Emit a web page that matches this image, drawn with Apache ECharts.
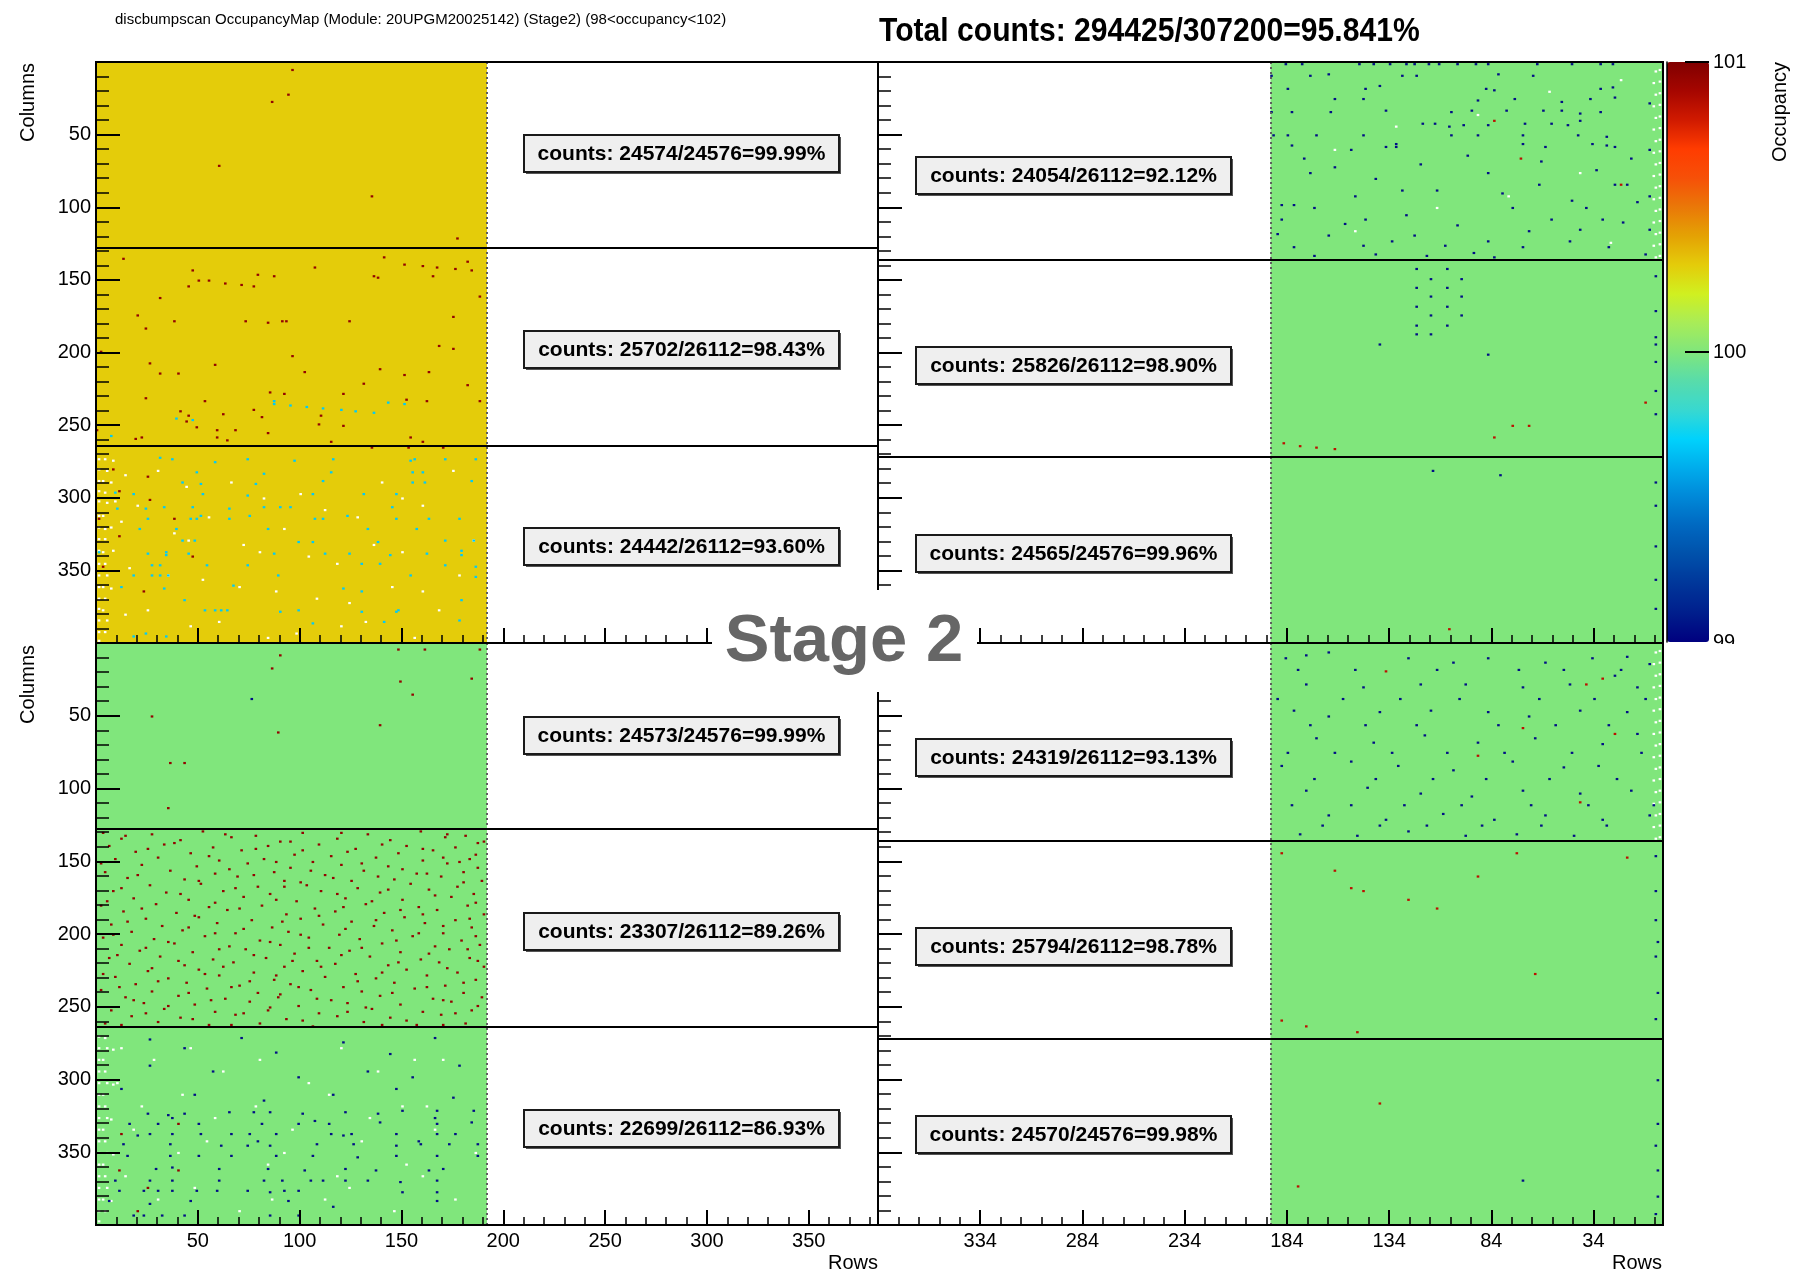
<!DOCTYPE html>
<html><head><meta charset="utf-8">
<script src="https://cdn.jsdelivr.net/npm/echarts@6/dist/echarts.min.js"></script>
<style>html,body{margin:0;padding:0;background:#fff}#c{width:1797px;height:1270px}</style>
</head><body><div id="c"></div>
<script>
// ---------------- data ----------------
const N_ROWS = 384, N_COLS = 400, FILLED_ROWS = 192;
const leftSplits = [0, 128, 264, 400];
const rightSplits = [0, 136, 272, 400];
const tlLevels = [100.3, 100.3, 100.3];
const trLevels = [100, 100, 100];
const blLevels = [100, 100, 100];
const brLevels = [100, 100, 100];
const HOT = 100.95, WARM = 100.85, CYAN = 99.68, COLD = 99.05, EMPTY = 0;
const occMin = 99, occMax = 101;
const colorbarTicks = [100, 101];

const titleText = 'discbumpscan OccupancyMap (Module: 20UPGM20025142) (Stage2) (98<occupancy<102)';
const totalText = 'Total counts: 294425/307200=95.841%';
const countsTL = ['counts: 24574/24576=99.99%', 'counts: 25702/26112=98.43%', 'counts: 24442/26112=93.60%'];
const countsTR = ['counts: 24054/26112=92.12%', 'counts: 25826/26112=98.90%', 'counts: 24565/24576=99.96%'];
const countsBL = ['counts: 24573/24576=99.99%', 'counts: 23307/26112=89.26%', 'counts: 22699/26112=86.93%'];
const countsBR = ['counts: 24319/26112=93.13%', 'counts: 25794/26112=98.78%', 'counts: 24570/24576=99.98%'];
const stageText = 'Stage 2';

// [row, column] of isolated pixels
const tlHot = [[96,5],[86,27],[94,22],[60,71],[135,92],[177,121],
 [13,135],[47,143],[45,154],[50,150],[55,150],[63,152],[71,153],[77,154],[79,146],[87,147],[107,141],[136,147],[138,148],[141,134],[151,139],[160,140],[165,147],[167,141],[176,142],[182,137],[184,143],[188,161],[31,162],[20,174],[24,183],[38,178],[73,178],[84,179],[91,178],[93,178],[124,178],[175,175],[168,195],[175,197],[96,202],[2,199],[26,207],[31,214],[40,214],[58,208],[102,213],[139,211],[151,215],[163,213],[182,222],[131,221],[24,231],[85,227],[92,228],[121,228],[152,232],[162,233],[188,233],[41,240],[45,243],[62,242],[77,239],[81,244],[53,233],[49,251],[44,247],[59,253],[110,243],[109,249],[121,250],[84,255],[68,253],[59,258],[64,260],[19,259],[22,258],[115,261],[154,258],[160,261],[0,253],
 [8,280],[25,285],[26,301],[38,314],[47,340],[23,364],[1,314],[3,347],[11,326],[11,295],[135,265],[153,265],[170,265]];
const tlCyan = [[87,233],[87,235],[95,236],[103,237],[111,238],[120,239],[127,240],[136,241],[143,234],[151,235],[39,245],[47,246],[7,257],
 [58,275],[74,273],[97,274],[116,273],[154,274],[156,273],[171,273],[186,273],[31,272],[37,273],[49,282],[82,283],[115,282],[155,282],[160,282],[184,288],[42,289],[51,290],[78,290],[111,288],[155,289],[161,289],[9,296],[18,297],[52,297],[74,298],[106,297],[131,297],[147,297],[10,307],[24,307],[33,306],[47,306],[65,307],[82,306],[90,306],[95,306],[145,306],[25,314],[46,314],[49,314],[51,312],[65,314],[75,312],[107,314],[111,314],[123,312],[147,314],[163,314],[178,314],[21,321],[39,321],[84,321],[133,321],[157,321],[42,329],[48,329],[99,330],[106,330],[138,330],[171,329],[185,329],[1,337],[25,338],[34,337],[34,339],[45,338],[87,338],[112,338],[124,338],[144,339],[162,338],[179,336],[179,339],[27,346],[31,346],[54,346],[74,346],[130,345],[139,345],[171,346],[186,347],[18,353],[27,353],[31,353],[35,353],[89,353],[154,353],[186,354],[12,361],[33,362],[67,360],[121,362],[130,364],[43,370],[179,370],[53,377],[58,377],[61,377],[64,377],[90,378],[99,377],[130,378],[147,378],[148,377],[178,384],[106,386],[141,385],[18,395],[24,393],[34,395]];
const tlWhite = [[1,273],[4,273],[8,274],[1,280],[5,281],[1,288],[3,288],[7,289],[1,295],[4,296],[1,302],[5,303],[9,302],[1,312],[3,312],[1,320],[4,321],[7,320],[1,328],[4,328],[1,336],[3,337],[8,336],[1,345],[4,345],[1,353],[5,353],[1,361],[3,361],[7,362],[1,369],[4,369],[1,376],[3,377],[1,384],[5,384],[1,392],[4,392],[1,398],
 [30,281],[66,289],[100,297],[140,289],[175,281],[20,305],[55,313],[92,321],[128,313],[160,305],[45,329],[80,337],[118,345],[150,337],[185,329],[35,353],[70,361],[108,369],[145,361],[178,353],[25,377],[60,385],[98,393],[132,385],[168,377],
 [14,284],[44,292],[82,300],[112,308],[150,300],[12,316],[38,324],[72,332],[104,340],[136,332],[16,348],[52,356],[88,364],[124,372],[160,364],[14,380],[46,388],[84,396],[120,388],[156,396]];

const trCold = [[184,1],[176,1],[148,1],[141,1],[133,1],[125,1],[121,1],[114,1],[109,1],[100,1],[91,1],[85,1],[61,1],[44,1],[30,1],[24,1],
 [191,9],[172,9],[163,8],[127,9],[120,9],[80,8],[63,9],[183,18],[145,18],[138,16],[86,18],[82,19],[30,18],[24,17],[160,25],[146,25],[90,26],[72,25],[49,27],[35,25],[23,24],[191,34],[181,34],[162,34],[135,33],[103,34],[93,33],[76,33],[58,33],[49,33],[40,35],[30,34],[117,42],[111,42],[67,42],[54,42],[46,43],[190,50],[183,50],[169,50],[146,50],[103,50],[90,50],[68,50],[41,50],[27,51],[181,57],[135,58],[130,58],[57,58],[27,57],[23,58],
 [186,98],[180,98],[170,100],[155,111],[145,108],[127,88],[104,44],[97,43],[85,43],[68,56],[59,68],[40,40],[34,56],[23,84],[17,84],[12,96],[29,108],[45,123],[68,127],[85,123],[106,126],[121,119],[132,123],[146,126],[163,119],[180,127],[186,108],[172,76],[152,60],[130,56],[85,76],[110,88],[73,100],[54,108],[40,115],[26,127],[6,28],[6,60],[6,92],[6,115],
 [175,66],[160,72],[140,80],[118,70],[95,64],[78,90],[60,84],[44,95],[32,74],[15,66],[188,118],[150,92],[125,105],[100,112],[82,134],[65,116],[37,100],[19,110],[8,132],[170,133],[140,132],[115,133],[92,131],
 [120,142],[120,155],[120,168],[120,181],[120,187],[113,149],[113,161],[113,174],[113,187],[105,142],[105,155],[105,168],[105,181],[98,149],[98,161],[98,174],[138,194],[85,201],[3,189],[3,147],[3,171],[3,194],[3,206],[3,226],[3,242],
 [112,281],[79,284],[3,289],[3,305],[3,333],[3,356],[3,376]];
const trHot = [[69,66],[20,84],[82,40],[8,234],[82,258],[73,250],[65,250],[185,262],[177,264],[169,265],[160,266],[104,390]];
const trWhite = [[1,5],[3,6],[1,13],[4,14],[1,21],[3,22],[1,29],[4,30],[1,37],[3,38],[1,45],[4,46],[1,53],[3,54],[1,61],[4,62],[1,69],[3,70],[1,77],[4,78],[1,85],[3,86],[1,93],[4,94],[1,101],[3,102],[1,109],[4,110],[1,117],[3,118],[1,125],[4,126],[1,133],[3,134],
 [20,12],[55,20],[90,36],[130,44],[160,60],[40,76],[75,92],[110,100],[150,116],[25,124]];

const blHot = [[90,8],[148,4],[161,4],[188,4],[149,26],[155,35],[184,24],[27,50],[89,61],[139,56],[36,82],[43,82],[35,113],[86,17],
 [3,130],[27,131],[52,129],[78,132],[101,130],[133,131],[159,129],[181,132],
 [12,134],[41,135],[66,133],[90,136],[118,134],[144,135],[171,133],[190,136],
 [6,139],[33,138],[57,140],[84,139],[109,138],[127,141],[152,139],[176,140],
 [19,143],[46,144],[71,142],[97,145],[123,143],[148,144],[165,142],[186,145],
 [9,148],[30,147],[60,149],[82,148],[106,150],[137,147],[160,149],[183,148],
 [22,152],[49,153],[74,151],[95,154],[120,152],[143,153],[172,151],
 [4,157],[36,156],[58,158],[87,157],[112,159],[131,156],[157,158],[180,157],
 [15,161],[43,162],[69,160],[92,163],[116,161],[146,162],[169,160],[189,163],
 [26,166],[51,165],[79,167],[103,166],[128,168],[154,165],[177,167],
 [8,170],[34,171],[62,170],[85,172],[110,170],[139,171],[163,169],[185,172],
 [18,175],[45,176],[72,174],[98,177],[122,175],[150,176],[174,174],
 [2,180],[29,179],[55,181],[81,180],[107,182],[132,179],[158,181],[182,180],
 [13,184],[39,185],[64,183],[93,186],[117,184],[141,185],[167,183],[190,186],
 [24,189],[50,188],[76,190],[100,189],[125,191],[151,188],[176,190],
 [7,193],[32,194],[59,192],[86,195],[111,193],[136,194],[161,192],[184,195],
 [17,198],[42,197],[68,199],[94,198],[119,200],[145,197],[170,199],
 [3,202],[28,203],[53,201],[80,204],[104,202],[129,203],[155,201],[179,204],
 [12,207],[38,206],[65,208],[90,207],[114,209],[140,206],[166,208],[188,207],
 [21,211],[47,212],[73,210],[97,213],[124,211],[149,212],[173,210],
 [6,216],[31,215],[57,217],[83,216],[108,218],[134,215],[159,217],[183,216],
 [16,220],[43,221],[67,219],[92,222],[117,220],[143,221],[168,219],[190,222],
 [25,225],[50,224],[77,226],[101,225],[127,227],[152,224],[177,226],
 [9,229],[35,230],[60,228],[87,231],[112,229],[137,230],[162,228],[186,231],
 [19,234],[44,233],[70,235],[95,234],[121,236],[146,233],[171,235],
 [2,238],[27,239],[54,237],[79,240],[105,238],[130,239],[156,237],[180,240],
 [14,243],[40,242],[63,244],[89,243],[115,245],[139,242],[165,244],[189,243],
 [23,247],[48,248],[75,246],[99,249],[123,247],[149,248],[174,246],
 [7,252],[33,251],[58,253],[84,252],[109,254],[135,251],[160,253],[184,252],
 [17,256],[41,257],[68,255],[93,258],[118,256],[144,257],[169,255],
 [4,261],[30,260],[55,262],[80,261],[106,263],[131,260],[157,262],[181,261],
 [14,132],[63,131],[120,130],[172,131],[38,137],[95,136],[140,138],[187,137],[25,141],[78,141],[101,142],[160,141],[55,146],[115,146],[170,147],[2,151],[88,150],[130,151],[178,150],[65,155],[105,156],[150,155],[187,154],[20,159],[77,159],[138,160],[162,158],[50,163],[100,164],[125,163],[180,164],[12,168],[68,168],[92,167],[143,169],[41,172],[118,172],[166,173],[5,177],[58,178],[88,176],[135,177],[186,178],[22,182],[70,182],[121,181],[149,183],[48,187],[109,187],[160,186],[183,189],[15,191],[91,191],[137,190],[45,195],[72,196],[122,196],[170,194],[8,200],[58,199],[100,200],[158,199],[186,201],[35,205],[85,205],[147,204],[24,209],[60,210],[104,209],[130,209],[182,210],[10,214],[77,214],[120,214],[163,213],[40,218],[96,218],[148,219],[187,218],[27,223],[62,222],[110,222],[172,223],[3,227],[53,227],[88,228],[140,226],[30,232],[75,232],[128,232],[180,233],[11,236],[66,236],[99,236],[162,236],[45,240],[90,241],[145,240],[18,245],[56,245],[108,244],[170,245],[35,249],[85,250],[132,250],[187,249],[24,254],[72,254],[123,253],[176,254],[47,258],[101,259],[152,259],[12,262],[66,262],[140,262],[170,262],
 [40,330],[40,362],[25,374],[20,390],[12,337],[11,362]];
const blCold = [[76,38],
 [25,323],[35,324],[43,323],[77,322],[85,322],[101,323],[122,322],[150,321],[167,321],[185,321],
 [16,330],[30,330],[50,330],[81,330],[99,330],[114,330],[139,329],[167,330],[184,329],
 [26,337],[37,337],[51,337],[66,337],[75,337],[88,337],[115,337],[125,337],[147,337],[167,337],[176,337],
 [13,344],[36,344],[61,345],[74,345],[85,345],[108,344],[126,344],[147,345],[159,344],[173,344],[187,344],
 [15,352],[36,352],[50,352],[66,352],[88,352],[106,352],[128,353],[147,352],[167,352],[187,352],
 [29,361],[37,360],[60,361],[84,361],[102,362],[122,361],[137,362],[163,362],[170,361],
 [9,369],[26,369],[37,369],[60,369],[82,369],[91,369],[105,369],[111,369],[122,369],[133,369],[149,370],[167,369],
 [11,376],[23,376],[30,376],[37,376],[49,376],[59,376],[74,376],[85,377],[92,376],[99,376],[150,377],[167,377],
 [6,383],[26,385],[46,383],[94,383],[116,387],[167,383],
 [18,393],[23,393],[32,393],[43,393],[85,393],[99,393],
 [26,272],[43,278],[71,271],[88,281],[121,274],[144,282],[166,271],[26,290],[57,294],[99,298],[133,294],[155,298],[178,290],[12,306],[48,310],[82,314],[116,310],[147,306],[175,312],[37,326],[65,322],[107,328],[138,323],[166,326],[20,338],[79,342],[121,338],[158,342]];
const blWhite = [[1,270],[4,271],[1,278],[5,278],[8,279],[1,286],[3,286],[1,294],[4,294],[1,302],[5,302],[8,303],[1,310],[3,310],[1,318],[4,318],[1,326],[5,326],[7,327],[1,334],[3,334],[1,342],[4,342],[1,350],[5,350],[8,351],[1,358],[3,358],[1,366],[4,366],[1,374],[5,374],[1,382],[3,382],[7,383],[1,390],[4,390],[1,397],
 [28,286],[62,294],[104,302],[138,294],[170,286],[22,318],[58,326],[96,334],[134,326],[162,318],[40,350],[84,358],[118,366],[152,358],[186,350],[30,382],[70,390],[112,382],[146,390],[176,382],
 [12,278],[46,278],[80,286],[120,278],[156,286],[10,302],[42,310],[78,318],[114,310],[150,318],[18,334],[54,342],[92,350],[130,342],[166,334],[14,366],[48,374],[86,382],[124,374],[160,366]];

const brCold = [[184,10],[174,8],[163,6],[124,10],[102,13],[85,10],[57,13],[34,10],[17,9],[6,14],[174,28],[146,30],[118,28],[96,28],[68,30],[45,28],[23,22],[12,30],[180,46],[163,50],[138,47],[113,46],[85,47],[65,50],[40,46],[17,47],[169,65],[141,68],[116,63],[90,68],[62,65],[29,69],[12,62],[186,84],[152,81],[129,84],[102,87],[73,81],[48,85],[31,84],[174,101],[144,99],[118,103],[93,105],[68,101],[40,103],[15,101],[163,118],[135,121],[107,117],[82,121],[57,118],[29,121],[6,118],[177,131],[149,132],[124,129],[96,132],[71,131],[43,132],
 [178,18],[150,18],[110,18],[70,18],[48,18],[20,18],[188,38],[156,38],[128,38],[99,38],[60,38],[33,38],[8,38],[172,56],[145,56],[120,56],[80,56],[52,56],[26,56],[183,75],[160,75],[132,75],[105,75],[77,75],[44,75],[10,75],[170,93],[140,93],[112,93],[86,93],[55,93],[22,93],[181,111],[152,111],[126,111],[98,111],[64,111],[36,111],[4,111],[166,125],[138,125],[115,125],[88,125],[59,125],[27,125],
 [3,146],[3,170],[3,190],[2,205],[3,215],[2,240],[3,258],
 [68,369],[2,300],[2,330],[3,345],[2,362],[2,380],[3,392]];
const brHot = [[135,19],[37,28],[29,24],[68,58],[90,77],[40,109],[23,62],[186,144],[160,156],[152,168],[146,170],[124,176],[110,182],[90,160],[71,144],[17,147],[62,227],[186,259],[174,263],[149,267],[138,316],[178,373]];
const brWhite = [[1,5],[3,6],[1,13],[4,14],[1,21],[3,22],[1,29],[4,30],[1,37],[3,38],[1,45],[4,46],[1,53],[3,54],[1,61],[4,62],[1,69],[3,70],[1,77],[4,78],[1,85],[3,86],[1,93],[4,94],[1,101],[3,102],[1,109],[4,110],[1,117],[3,118],[1,125],[4,126],[1,133],[3,134]];

// ---------------- styling ----------------
const FONT = '"Liberation Sans", Arial, Helvetica, sans-serif';
const PALETTE = ['#00007f','#001e8c','#00369a','#0050aa','#0068c0','#0088d8','#00acec','#00d2fc','#38d8d0','#58dcaa','#80e67c','#a8ec58','#d0f020','#e4cc0a','#e4a204','#ea7808','#f65008','#ff3c00','#d01a00','#a60600','#800000'];

const gridBoxes = [
  {left: 96, top: 62, width: 782, height: 581},
  {left: 878, top: 62, width: 785, height: 581},
  {left: 96, top: 643, width: 782, height: 582},
  {left: 878, top: 643, width: 785, height: 582},
  {left: 1667, top: 62, width: 42, height: 580}
];

const panels = [
  {mirror: false, splits: leftSplits, levels: tlLevels, dots: [[tlWhite, EMPTY], [tlCyan, CYAN], [tlHot, HOT]], counts: countsTL, boxX: 524, boxY: [135, 331, 528]},
  {mirror: true, splits: rightSplits, levels: trLevels, dots: [[trWhite, EMPTY], [trCold, COLD], [trHot, WARM]], counts: countsTR, boxX: 916, boxY: [157, 347, 535]},
  {mirror: false, splits: leftSplits, levels: blLevels, dots: [[blWhite, EMPTY], [blCold, COLD], [blHot, HOT]], counts: countsBL, boxX: 524, boxY: [717, 913, 1110]},
  {mirror: true, splits: rightSplits, levels: brLevels, dots: [[brWhite, EMPTY], [brCold, COLD], [brHot, WARM]], counts: countsBR, boxX: 916, boxY: [739, 928, 1116]}
];

function sectionData(splits, levels) {
  const out = [];
  for (let i = 0; i < levels.length; i++) out.push([0, splits[i], levels[i], FILLED_ROWS, splits[i + 1]]);
  return out;
}
function dotData(groups) {
  const out = [];
  groups.forEach(([list, v]) => list.forEach(([r, c]) => out.push([r, c, v, r + 1, c + 1])));
  return out;
}
function makeRender(mirror, minW, minH) {
  return function (params, api) {
    const r0 = api.value(0), c0 = api.value(1), v = api.value(2), r1 = api.value(3), c1 = api.value(4);
    const xa = mirror ? N_ROWS - r1 : r0, xb = mirror ? N_ROWS - r0 : r1;
    const p0 = api.coord([xa, c0]), p1 = api.coord([xb, c1]);
    let x = Math.min(p0[0], p1[0]), y = Math.min(p0[1], p1[1]);
    let w = Math.abs(p1[0] - p0[0]), h = Math.abs(p1[1] - p0[1]);
    if (w < minW) { x -= (minW - w) / 2; w = minW; }
    if (h < minH) { y -= (minH - h) / 2; h = minH; }
    const fill = v < occMin ? '#ffffff' : api.visual('color');
    return {type: 'rect', shape: {x: x, y: y, width: w, height: h}, style: {fill: fill}};
  };
}
// colour-bar tick marks drawn on the bar (value -> position through the bar's axis)
function colorbarTickRender(params, api) {
  const p = api.coord([0, api.value(0)]);
  const right = params.coordSys.x + params.coordSys.width;
  return {type: 'line', shape: {x1: right - 24, y1: p[1], x2: right, y2: p[1]}, style: {stroke: '#000', lineWidth: 2}};
}

const grids = gridBoxes.map((b, i) => Object.assign({}, b, i < 4
  ? {show: true, borderColor: '#000', borderWidth: 2, backgroundColor: 'transparent', z: 6}
  : {show: false}));

const xAxes = [], yAxes = [], series = [];
panels.forEach((p, i) => {
  xAxes.push({
    gridIndex: i, type: 'value', min: 0, max: N_ROWS, interval: 50, z: 7,
    axisLine: {show: true, onZero: false, lineStyle: {color: '#000', width: 2}},
    axisTick: {show: true, inside: true, length: 15, lineStyle: {color: '#000', width: 2}},
    minorTick: {show: true, splitNumber: 5, length: 8, lineStyle: {color: '#000', width: 1.5}},
    splitLine: {show: false}, minorSplitLine: {show: false},
    axisLabel: {show: i >= 2, showMinLabel: false, showMaxLabel: false, fontSize: 20, fontFamily: FONT, color: '#000', margin: 6,
      formatter: p.mirror ? (v) => String(N_ROWS - v) : (v) => String(v)}
  });
  yAxes.push({
    gridIndex: i, type: 'value', min: 0, max: N_COLS, interval: 50, inverse: true, z: 7,
    axisLine: {show: true, onZero: false, lineStyle: {color: '#000', width: 2}},
    axisTick: {show: true, inside: true, length: 24, lineStyle: {color: '#000', width: 2}},
    minorTick: {show: true, splitNumber: 5, length: 13, lineStyle: {color: '#000', width: 1.5}},
    splitLine: {show: false}, minorSplitLine: {show: false},
    axisLabel: {show: !p.mirror, showMinLabel: false, showMaxLabel: false, fontSize: 20, fontFamily: FONT, color: '#000', margin: 5}
  });
  const vx = p.mirror ? N_ROWS - FILLED_ROWS : FILLED_ROWS;
  series.push({
    type: 'custom', xAxisIndex: i, yAxisIndex: i, z: 2, silent: true, animation: false,
    renderItem: makeRender(p.mirror, 0, 0), data: sectionData(p.splits, p.levels),
    markLine: {
      silent: true, animation: false, symbol: ['none', 'none'], label: {show: false}, emphasis: {disabled: true},
      data: [{xAxis: vx, lineStyle: {type: [2, 3], color: '#5e5e5e', width: 2}}]
        .concat(p.splits.slice(1, -1).map((c) => ({yAxis: c, lineStyle: {type: 'solid', color: '#000', width: 2}})))
    }
  });
  series.push({
    type: 'custom', xAxisIndex: i, yAxisIndex: i, z: 3, silent: true, animation: false,
    renderItem: makeRender(p.mirror, 2.6, 2.2), data: dotData(p.dots)
  });
});
const heatSeriesIdx = series.map((s, i) => i);
// colour-bar axis
xAxes.push({gridIndex: 4, type: 'value', show: false, min: 0, max: 1});
yAxes.push({
  gridIndex: 4, type: 'value', position: 'right', min: occMin, max: occMax, interval: 1, z: 10,
  axisLine: {show: true, lineStyle: {color: '#000', width: 1.5}},
  axisTick: {show: false},
  splitLine: {show: false},
  axisLabel: {fontSize: 20, fontFamily: FONT, color: '#000', margin: 4}
});
series.push({
  type: 'custom', xAxisIndex: 4, yAxisIndex: 4, z: 10, silent: true, animation: false,
  renderItem: colorbarTickRender, data: colorbarTicks.map((v) => [v])
});

// ---------------- graphics (texts, boxes) ----------------
function txt(x, y, text, size, weight, align, vAlign, extra, fill) {
  return Object.assign({
    type: 'text', x: x, y: y, z: 20,
    style: {text: text, fontSize: size, fontWeight: weight, fontFamily: FONT, fill: fill || '#000',
      align: align, textAlign: align, verticalAlign: vAlign, textVerticalAlign: vAlign}
  }, extra || {});
}
const graphics = [];
graphics.push(txt(115, 20, titleText, 15, 'normal', 'left', 'middle'));
graphics.push(txt(879, 32, totalText, 33, 'bold', 'left', 'middle', {scaleX: 0.912}));
panels.forEach((p) => {
  p.counts.forEach((t, k) => {
    const bx = p.boxX, by = p.boxY[k], bw = 315, bh = 37;
    graphics.push({type: 'rect', z: 20, shape: {x: bx + 2, y: by + 2, width: bw, height: bh}, style: {fill: '#555'}});
    graphics.push({type: 'rect', z: 21, shape: {x: bx, y: by, width: bw, height: bh}, style: {fill: '#efefef', stroke: '#1a1a1a', lineWidth: 2}});
    graphics.push(txt(bx + bw / 2, by + bh / 2 + 1, t, 21, 'bold', 'center', 'middle', {z: 22}));
  });
});
graphics.push(txt(28, 63, 'Columns', 20, 'normal', 'right', 'middle', {rotation: Math.PI / 2}));
graphics.push(txt(28, 645, 'Columns', 20, 'normal', 'right', 'middle', {rotation: Math.PI / 2}));
graphics.push(txt(878, 1263, 'Rows', 20, 'normal', 'right', 'middle'));
graphics.push(txt(1662, 1263, 'Rows', 20, 'normal', 'right', 'middle'));
graphics.push(txt(1780, 62, 'Occupancy', 20, 'normal', 'right', 'middle', {rotation: Math.PI / 2}));
// lower pad covers the lower half of the colour-bar's bottom label
graphics.push({type: 'rect', z: 50, shape: {x: 1665, y: 644, width: 132, height: 626}, style: {fill: '#fff'}});
// Stage label
graphics.push({type: 'rect', z: 60, shape: {x: 712, y: 590, width: 265, height: 102}, style: {fill: '#fff'}});
graphics.push(txt(844, 643, stageText, 67, 'bold', 'center', 'middle', {z: 61}, '#666666'));

const chart = echarts.init(document.getElementById('c'), null, {renderer: 'canvas'});
chart.setOption({
  backgroundColor: '#ffffff',
  animation: false,
  grid: grids,
  xAxis: xAxes,
  yAxis: yAxes,
  visualMap: {
    type: 'continuous', min: occMin, max: occMax, dimension: 2,
    seriesIndex: heatSeriesIdx,
    inRange: {color: PALETTE}, outOfRange: {color: '#ffffff'},
    left: 1667, top: 62, itemWidth: 42, itemHeight: 580, padding: 0, z: 4,
    calculable: false, hoverLink: false, orient: 'vertical', text: null, showLabel: false
  },
  series: series,
  graphic: {elements: graphics}
});
</script></body></html>
